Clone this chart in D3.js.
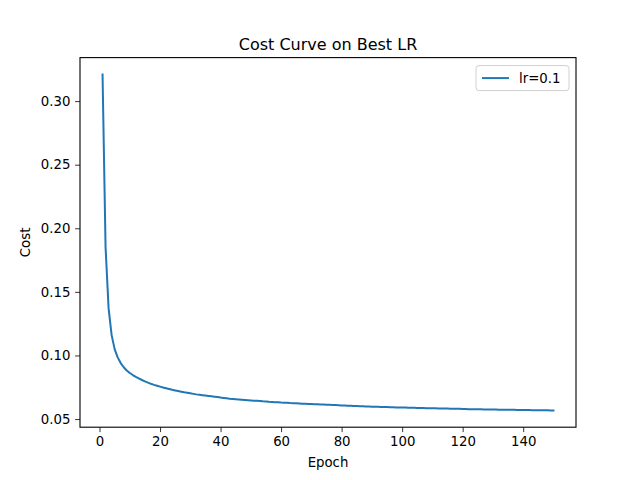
<!DOCTYPE html>
<html>
<head>
<meta charset="utf-8">
<script src="https://cdn.jsdelivr.net/npm/d3@7"></script>
<style>
  body { margin: 0; background: #fff; }
  text { font-family: "DejaVu Sans", sans-serif; fill: #000; }
</style>
</head>
<body>
<div id="chart"></div>
<script>
// cost values, epochs 1..150
const costs = [
  0.321, 0.185, 0.137, 0.116, 0.105, 0.0985, 0.0940, 0.0907, 0.0882, 0.0862,
  0.0846, 0.0832, 0.0819, 0.0807, 0.0796, 0.0786, 0.0777, 0.0769, 0.0762, 0.0755,
  0.0748, 0.0742, 0.0736, 0.0730, 0.0725, 0.0720, 0.0715, 0.0710, 0.0706, 0.0702,
  0.0698, 0.0694, 0.0691, 0.0688, 0.0685, 0.0682, 0.0679, 0.0676, 0.0673, 0.0669,
  0.0666, 0.0663, 0.0660, 0.0658, 0.0656, 0.0654, 0.0652, 0.0650, 0.0648, 0.0646,
  0.0644, 0.0643, 0.0641, 0.0639, 0.0638, 0.0636, 0.0635, 0.0633, 0.0632, 0.0630,
  0.0629, 0.0628, 0.0626, 0.0625, 0.0624, 0.0623, 0.0621, 0.0620, 0.0619, 0.0618,
  0.0617, 0.0616, 0.0615, 0.0614, 0.0613, 0.0612, 0.0611, 0.0610, 0.0609, 0.0607,
  0.0606, 0.0605, 0.0604, 0.0603, 0.0602, 0.0601, 0.0600, 0.0599, 0.0598, 0.0597,
  0.0597, 0.0596, 0.0595, 0.0594, 0.0594, 0.0593, 0.0592, 0.0591, 0.0591, 0.0590,
  0.0590, 0.0589, 0.0588, 0.0588, 0.0587, 0.0587, 0.0586, 0.0585, 0.0585, 0.0584,
  0.0584, 0.0583, 0.0583, 0.0582, 0.0582, 0.0581, 0.0581, 0.0580, 0.0580, 0.0579,
  0.0579, 0.0578, 0.0578, 0.0578, 0.0577, 0.0577, 0.0576, 0.0576, 0.0576, 0.0575,
  0.0575, 0.0574, 0.0574, 0.0574, 0.0573, 0.0573, 0.0573, 0.0572, 0.0572, 0.0572,
  0.0571, 0.0571, 0.0570, 0.0570, 0.0570, 0.0569, 0.0569, 0.0569, 0.0568, 0.0568
];
const epochs = costs.map((c, i) => i + 1);
const xTicks = [0, 20, 40, 60, 80, 100, 120, 140];
const yTicks = [0.05, 0.10, 0.15, 0.20, 0.25, 0.30];
const seriesLabel = "lr=0.1";

const W = 640, H = 480;
const margin = {top: 57.6, right: 64, bottom: 52.8, left: 80},
    width = W - margin.left - margin.right,
    height = H - margin.top - margin.bottom;

const svg = d3.select("#chart")
  .append("svg")
    .attr("width", W)
    .attr("height", H);

const g = svg.append("g")
  .attr("transform", `translate(${margin.left}, ${margin.top})`);

// matplotlib-style 5% padding on the data range
const xPad = (d3.max(epochs) - d3.min(epochs)) * 0.05;
const yPad = (d3.max(costs) - d3.min(costs)) * 0.05;

const x = d3.scaleLinear()
  .domain([d3.min(epochs) - xPad, d3.max(epochs) + xPad])
  .range([0, width]);
const y = d3.scaleLinear()
  .domain([d3.min(costs) - yPad, d3.max(costs) + yPad])
  .range([height, 0]);

const xAxis = g.append("g")
  .attr("transform", `translate(0, ${height})`)
  .call(d3.axisBottom(x).tickValues(xTicks).tickFormat(d3.format("d")).tickSizeOuter(0).tickSize(4.9).tickPadding(4.7));
const yAxis = g.append("g")
  .call(d3.axisLeft(y).tickValues(yTicks).tickFormat(d3.format(".2f")).tickSizeOuter(0).tickSize(4.9).tickPadding(4.7));

[xAxis, yAxis].forEach(a => {
  a.select(".domain").remove();
  a.selectAll(".tick line").attr("stroke", "#000").attr("stroke-width", 0.8);
  a.selectAll(".tick text").style("font-family", "DejaVu Sans").style("font-size", "13.3px");
});

// the line
const line = d3.line()
  .x((d, i) => x(epochs[i]))
  .y(d => y(d));
g.append("path")
  .datum(costs)
  .attr("d", line)
  .attr("fill", "none")
  .attr("stroke", "#1f77b4")
  .attr("stroke-width", 2)
  .attr("stroke-linejoin", "round")
  .attr("stroke-linecap", "square");

// frame
g.append("rect")
  .attr("width", width)
  .attr("height", height)
  .attr("fill", "none")
  .attr("stroke", "#000")
  .attr("stroke-width", 1.1);

// title and labels
g.append("text")
  .attr("x", width / 2)
  .attr("y", -8)
  .attr("text-anchor", "middle")
  .style("font-size", "16px")
  .text("Cost Curve on Best LR");

g.append("text")
  .attr("x", width / 2)
  .attr("y", height + 40)
  .attr("text-anchor", "middle")
  .style("font-size", "13.3px")
  .text("Epoch");

g.append("text")
  .attr("transform", `translate(${-50}, ${height / 2}) rotate(-90)`)
  .attr("text-anchor", "middle")
  .style("font-size", "13.3px")
  .text("Cost");

// legend
const legend = g.append("g")
  .attr("transform", `translate(${width - 100}, 8)`);
legend.append("rect")
  .attr("x", 0).attr("y", 0)
  .attr("width", 93).attr("height", 25)
  .attr("rx", 3)
  .attr("fill", "#fff")
  .attr("fill-opacity", 0.8)
  .attr("stroke", "#d0d0d0")
  .attr("stroke-width", 1);
legend.append("line")
  .attr("x1", 6).attr("x2", 33)
  .attr("y1", 12.5).attr("y2", 12.5)
  .attr("stroke", "#1f77b4")
  .attr("stroke-width", 2);
legend.append("text")
  .attr("x", 43).attr("y", 17)
  .style("font-size", "13.3px")
  .text(seriesLabel);
</script>
</body>
</html>
